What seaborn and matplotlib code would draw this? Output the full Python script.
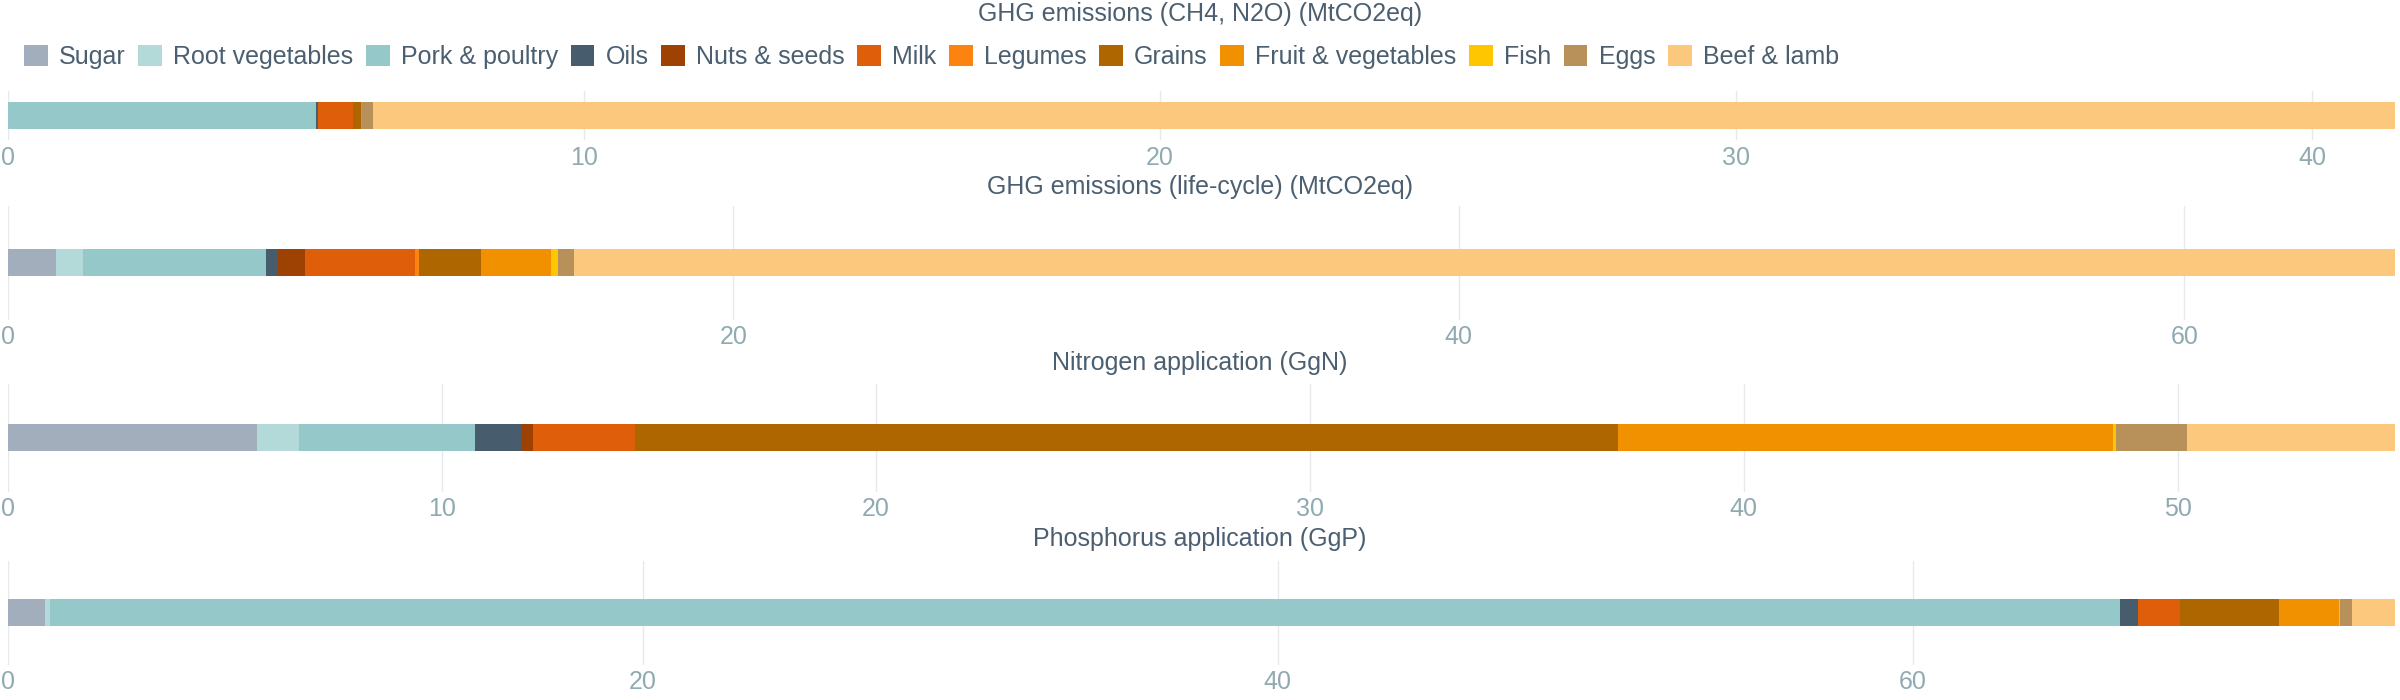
import matplotlib
matplotlib.use('Agg')
import matplotlib.pyplot as plt
from matplotlib.patches import Patch
import numpy as np
import pandas as pd
import seaborn as sns

categories = ['Sugar', 'Root vegetables', 'Pork & poultry', 'Oils', 'Nuts & seeds', 'Milk',
              'Legumes', 'Grains', 'Fruit & vegetables', 'Fish', 'Eggs', 'Beef & lamb']
colors = ['#A2AEBB', '#B3DAD8', '#95C9C9', '#475C6D', '#9E4203', '#DE5E0A',
          '#FD8311', '#AE6600', '#F29100', '#FDC600', '#B8905A', '#FBC87D']

titles = ['GHG emissions (CH4, N2O) (MtCO2eq)',
          'GHG emissions (life-cycle) (MtCO2eq)',
          'Nitrogen application (GgN)',
          'Phosphorus application (GgP)']

# values, same order as categories
ghg_direct = [0, 0, 5.35, 0.04, 0, 0.6, 0, 0.14, 0.02, 0, 0.19, 35.1]
ghg_lifecycle = [1.32, 0.75, 5.03, 0.34, 0.75, 3.02, 0.11, 1.72, 1.93, 0.2, 0.44, 50.2]
nitrogen = [5.73, 0.97, 4.07, 1.06, 0.28, 2.35, 0, 22.65, 11.4, 0.07, 1.63, 4.8]
phosphorus = [1.17, 0.15, 65.2, 0.56, 0, 1.33, 0, 3.12, 1.9, 0.03, 0.38, 1.35]

xticks = [[0, 10, 20, 30, 40], [0, 20, 40, 60], [0, 10, 20, 30, 40, 50], [0, 20, 40, 60]]

sns.set_theme(style='white')
plt.rcParams['font.family'] = ['Liberation Sans', 'DejaVu Sans']

text_col = '#4B5F70'
tick_col = '#90AAB2'
fsize = 18
W, H = 2400, 700

fig = plt.figure(figsize=(24, 7), dpi=100)

# panel layout in pixels: bar centre, half height of plot area, title y
centres = [115.5, 262.5, 437.5, 612.5]
halves = [24.5, 57, 54, 52]
title_y = [14, 187, 363, 539]
bar_px = 27.0
left_px, right_px = 8, 2395

palette = dict(zip(categories, colors))
all_vals = [ghg_direct, ghg_lifecycle, nitrogen, phosphorus]

for i, vals in enumerate(all_vals):
    c, h = centres[i], halves[i]
    ax = fig.add_axes([left_px / W, 1 - (c + h) / H, (right_px - left_px) / W, 2 * h / H])
    cum = np.cumsum(vals)
    df = pd.DataFrame({'metric': [titles[i]] * len(categories),
                       'category': categories, 'cum': cum})
    # stacked look: draw cumulative totals, largest first
    sns.barplot(data=df, x='cum', y='metric', hue='category', hue_order=categories[::-1],
                palette=palette, dodge=False, saturation=1, errorbar=None, width=0.8,
                linewidth=0, legend=False, ax=ax)
    k = bar_px / 0.8
    ax.set_ylim(h / k, -h / k)
    ax.set_xlim(0, cum[-1])
    ax.set_yticks([])
    ax.set_ylabel('')
    ax.set_xlabel('')
    ax.set_xticks(xticks[i])
    ax.set_xticklabels([str(t) for t in xticks[i]])
    ax.tick_params(axis='x', length=0, pad=4, labelsize=fsize, labelcolor=tick_col)
    ax.grid(axis='x', color='#E6E9EE', lw=1)
    ax.set_axisbelow(True)
    ax.axvline(0, color='#8D9CAB', lw=1.3, zorder=0.5)
    for s in ax.spines.values():
        s.set_visible(False)
    fig.text(0.5, 1 - title_y[i] / H, titles[i], ha='center', va='center',
             fontsize=fsize, color=text_col)

handles = [Patch(facecolor=col, edgecolor='none') for col in colors]
fig.legend(handles, categories, loc='center left', bbox_to_anchor=(24 / W, 1 - 57 / H),
           ncol=12, frameon=False, fontsize=fsize, handlelength=0.95, handleheight=0.95,
           handletextpad=0.45, columnspacing=0.5, borderaxespad=0, borderpad=0,
           labelcolor=text_col)

fig.savefig('out.png', dpi=100)
